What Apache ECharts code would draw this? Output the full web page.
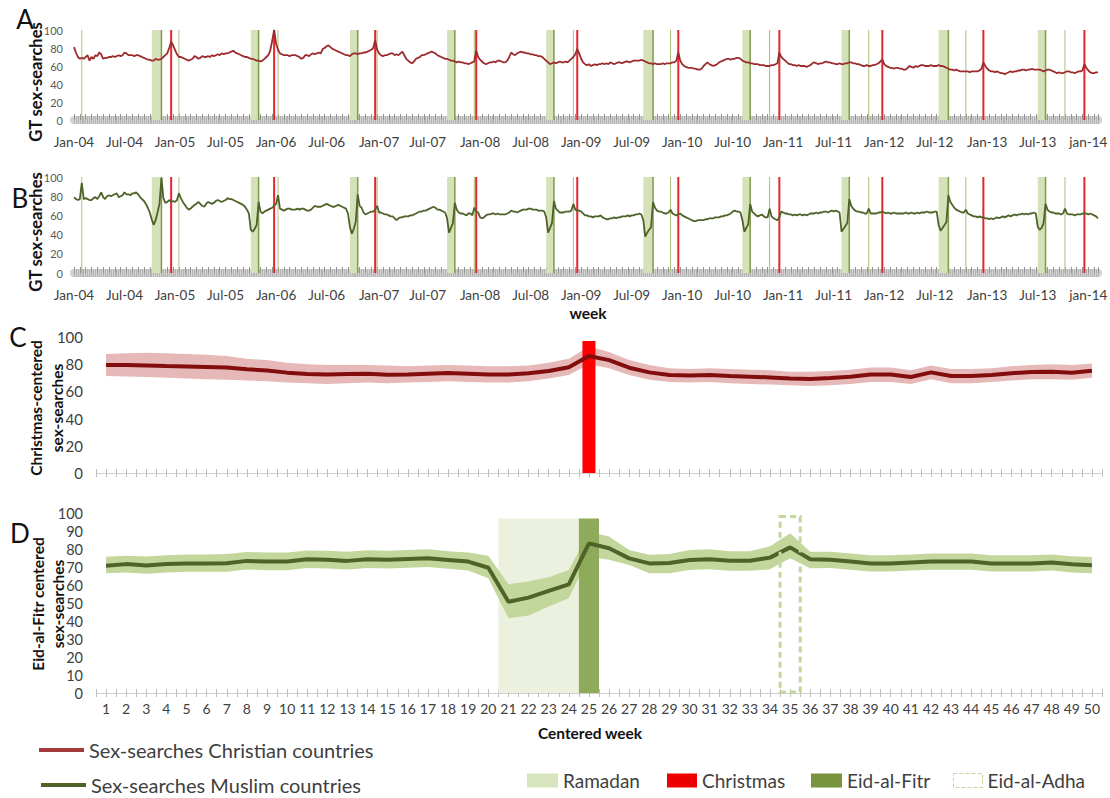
<!DOCTYPE html>
<html><head><meta charset="utf-8">
<script src="https://cdn.jsdelivr.net/npm/echarts@6/dist/echarts.min.js"></script>
<style>html,body{margin:0;padding:0;background:#fff}#chart{width:1110px;height:798px}</style>
</head><body><div id="chart"></div>
<script>
// ---------- DATA ----------
const weekStart = '2004-01-04';
const timeTickLabels = ['Jan-04','Jul-04','Jan-05','Jul-05','Jan-06','Jul-06','Jan-07','Jul-07','Jan-08','Jul-08','Jan-09','Jul-09','Jan-10','Jul-10','Jan-11','Jul-11','Jan-12','Jul-12','Jan-13','Jul-13','jan-14'];

// Panel A: weekly GT sex-searches, Christian countries (52 weeks per block from 2004-01-04)
const christian2004 = [81,75,70,68,69,68,70,72,66,70,68,72,71, 75,73,68,69,69,70,70,71,70,71,72,71,72, 75,74,72,72,72,71,72,72,71,70,69,68,67, 67,66,66,68,67,67,68,70,72,74,80,87,83];
const christian2005 = [78,73,70,70,69,68,67,66,67,68,71,70,68, 69,71,70,70,71,70,72,71,72,73,72,74,73, 74,74,75,76,77,75,74,73,72,71,70,70,69, 68,68,67,66,66,65,66,68,70,72,77,88,100];
const christian2006 = [85,78,74,73,72,72,72,71,72,72,72,71,70, 68,69,72,72,71,73,74,73,74,75,74,79,80, 82,83,81,79,78,77,76,75,74,73,72,72,71, 73,74,74,73,74,74,75,75,76,77,78,80,89];
const christian2007 = [78,74,72,71,72,72,73,74,74,72,73,72,74, 76,72,68,66,64,63,65,68,69,70,72,72,73, 74,75,76,75,74,72,71,70,69,68,68,67,66, 66,65,64,65,64,64,63,63,62,63,64,65,77];
const christian2008 = [70,67,65,63,62,63,64,64,65,64,66,66,65, 64,64,66,70,75,73,72,74,75,76,75,75,74, 74,73,73,72,72,71,71,70,68,66,64,62,63, 64,63,64,65,64,64,65,64,66,68,70,73,79];
const christian2009 = [74,68,64,62,61,62,60,61,62,61,62,62,63, 62,63,62,64,63,62,63,64,64,63,64,65,65, 64,65,66,66,66,66,67,66,65,64,63,63,62, 63,62,62,62,63,62,63,63,63,64,64,66,75];
const christian2010 = [66,62,60,59,58,58,58,57,57,56,56,57,60, 62,64,62,61,60,61,62,64,65,66,67,68,68, 67,68,68,69,69,68,66,65,64,64,63,63,62, 62,62,61,61,61,60,60,60,61,61,62,63,75];
const christian2011 = [70,68,66,64,62,62,61,61,60,61,60,60,60, 59,60,61,63,64,63,62,63,63,64,65,64,64, 63,63,62,62,63,62,62,63,63,64,64,63,63, 62,62,61,60,60,61,60,60,61,61,62,63,65];
const christian2012 = [67,62,60,59,58,58,57,58,58,57,57,56,56, 58,60,59,58,60,59,60,61,61,60,60,60,61, 60,60,60,61,60,60,59,58,57,56,56,55,56, 55,54,54,54,54,54,53,54,54,54,54,55,57];
const christian2013 = [64,60,57,55,54,54,53,54,53,52,52,51,52, 53,54,53,54,54,55,55,56,56,55,56,56,57, 56,56,56,56,55,54,55,56,56,55,54,53,52, 53,52,52,53,54,54,53,53,52,53,54,54,55];
const christian2014 = [62,58,55,53,52,52,53,53];

// Panel B: weekly GT sex-searches, Muslim countries
const muslim2004 = [79,77,76,77,94,77,78,77,76,76,78,79,77, 80,84,79,77,80,81,80,81,82,83,79,80,81, 84,82,82,81,83,83,84,82,79,77,75,72,68, 63,56,50,55,63,72,99,78,73,74,76,74,75];
const muslim2005 = [74,76,83,78,74,71,68,66,67,69,71,72,74, 72,70,69,72,74,73,72,73,75,76,75,74,75, 76,78,77,77,76,75,74,73,72,71,69,66,62, 45,43,46,50,74,64,62,64,65,66,67,68,70];
const muslim2006 = [72,81,67,66,65,66,67,67,66,66,66,67,66, 67,67,66,65,65,66,68,70,69,69,69,70,71, 72,71,70,69,69,70,71,70,69,68,67,62,48, 41,46,53,82,70,68,63,61,62,63,64,64,66];
const muslim2007 = [70,63,63,62,61,61,60,59,59,57,55,57,58, 58,59,59,59,60,60,61,62,63,64,64,65,65, 66,67,68,69,68,66,66,65,64,63,57,42,47, 52,73,66,63,62,62,61,60,62,62,60,68,64];
const muslim2008 = [63,58,57,58,60,61,61,62,62,61,62,61,61, 61,61,62,63,65,64,64,63,64,65,66,66,66, 67,67,66,66,66,65,65,65,64,58,42,47,52, 75,67,65,63,63,63,64,64,64,65,72,66,65];
const muslim2009 = [65,64,62,60,60,59,59,58,59,59,59,60,58, 57,56,56,57,57,58,57,58,58,59,59,59,60, 59,60,60,61,61,62,61,55,38,42,45,48,74, 68,65,64,64,63,62,62,63,66,62,61,60,61];
const muslim2010 = [62,60,59,58,57,56,55,54,54,55,55,55,55, 56,56,57,57,57,58,58,58,59,59,60,60,61, 62,64,65,64,64,63,55,43,47,51,72,64,62, 60,59,60,61,59,58,58,67,59,57,56,55,58];
const muslim2011 = [64,63,62,62,61,61,60,61,60,61,61,60,61, 60,61,62,62,62,63,62,63,63,64,64,63,64, 65,64,65,64,63,43,46,49,52,77,70,67,65, 64,64,63,63,62,62,67,62,62,62,62,63,63];
const muslim2012 = [64,63,62,63,62,62,63,62,62,62,62,62,63, 62,62,63,62,62,63,62,63,63,63,64,63,63, 63,64,64,50,44,47,50,53,81,74,71,68,66, 65,64,63,63,66,62,61,60,59,59,58,59,58];
const muslim2013 = [58,57,57,56,57,56,57,58,57,58,59,58,59, 60,59,60,61,60,61,61,62,61,62,61,62,62, 63,62,48,45,47,52,72,66,64,63,63,62,62, 62,61,62,67,62,61,61,61,60,61,61,61,62];
const muslim2014 = [62,62,61,62,61,60,59,57];

// Event dates
const ramadanStart = ['2004-10-15','2005-10-04','2006-09-24','2007-09-13','2008-09-01','2009-08-22','2010-08-11','2011-08-01','2012-07-20','2013-07-09'];
const eidFitrDates = ['2004-11-14','2005-11-03','2006-10-23','2007-10-13','2008-10-01','2009-09-20','2010-09-10','2011-08-30','2012-08-19','2013-08-08'];
const christmasDates = ['2004-12-25','2005-12-25','2006-12-25','2007-12-25','2008-12-25','2009-12-25','2010-12-25','2011-12-25','2012-12-25','2013-12-25'];
const eidAdhaDates = ['2004-02-01','2005-01-21','2006-01-10','2006-12-31','2007-12-20','2008-12-08','2009-11-27','2010-11-16','2011-11-06','2012-10-26','2013-10-15'];

// Panel C: Christmas-centered (weeks 1..50)
const christmasMean  = [79.4,79.4,79,78.6,78.3,78,77.5,76.3,75.3,73.8,72.8,72.5,72.8,73,72.3,72.5,73,73.5,73,72.5,72.5,73.3,75,77.7,86,83,77.4,74,72,71.6,72,71.3,70.8,70.3,69.4,69.1,69.8,70.8,72.5,72.5,70.6,74,71.3,71.3,72,73.3,74.3,74.5,73.7,75.2];
const christmasUpper = [87.5,88,88.5,88,87.5,87,86,84,83,81,80,79.5,79.5,79.5,79,78.5,79,79.5,79,78.5,78.5,79,81,84,93,89,83,79.5,77,76.5,77,76.5,76,75.5,74.5,74.5,75,76,77.5,77.5,75.5,79,76.5,76.5,77,78.5,79.5,80,79.5,80.5];
const christmasLower = [71.3,71,70.5,70,69.5,69,68.5,68,67.5,66.5,66,65.5,66,66.5,66,66.5,67,67.5,67,66.5,66.5,67.5,69.5,72,80,77,72,68.5,67,66.5,67,66,65.5,65,64.5,64,64.5,65.5,67,67,65.5,69,66,66,67,68,69,69,68.5,70];
const christmasBar = [[25, 97]];

// Panel D: Eid-al-Fitr centered (weeks 1..50)
const eidMean  = [70.7,71.6,70.9,71.6,72,72,72.1,73.4,73,73,74.3,74,73.4,74.3,74,74.4,74.8,73.9,73,69.6,50.7,53,56.7,60.4,83.1,80.4,74.8,72,72.2,73.9,74.3,73.5,73.5,75.2,80.9,74.3,74,73,72,72,72.5,73,73,73,72,72,72,72.5,71.5,71];
const eidUpper = [75.7,76.2,75.8,76.5,77,77,77.2,78.3,78,78,79.2,79,78.5,79.3,79,79.4,79.8,78.8,78,76.3,60.4,62,64.3,68.3,89.6,87,79.4,76.8,77.2,79.4,79.8,78.7,78.7,81.5,88.7,78.5,78.5,77.5,76.5,76.5,77,77.5,77.5,77.5,76.5,76.5,76.5,77,76,75.5];
const eidLower = [66.5,67,66.2,67,67.3,67.3,67.3,68.6,68.2,68.2,69.5,69.2,68.6,69.5,69.2,69.6,70,69,68,63.7,41.5,43,48,52.6,75.7,74,71.1,66.5,66.5,68.3,68.7,67.9,67.9,68.7,74.8,69.3,69.5,68.5,67.5,67.5,68,68.5,68.5,68.5,67.5,67.5,67.5,68,67,66.5];
const ramadanSpan = [[20.5, 24.5, 97]];
const eidFitrSpan = [[24.5, 25.5, 97]];
const eidAdhaSpan = [[34.5, 35.5, 0.5, 98]];

// ---------- BUILD ----------
const FONT = 'Lato, "Liberation Sans", sans-serif';
const DAY = 86400000;
const [y0, m0, d0] = weekStart.split('-').map(Number);
const WEEK0 = Date.UTC(y0, m0 - 1, d0);
function weekOf(s) { const [y, m, d] = s.split('-').map(Number); return Math.floor((Date.UTC(y, m - 1, d) - WEEK0) / (7 * DAY)); }

const christianWeekly = [].concat(christian2004, christian2005, christian2006, christian2007, christian2008, christian2009, christian2010, christian2011, christian2012, christian2013, christian2014);
const muslimWeekly = [].concat(muslim2004, muslim2005, muslim2006, muslim2007, muslim2008, muslim2009, muslim2010, muslim2011, muslim2012, muslim2013, muslim2014);
const N = christianWeekly.length;

const labelMap = {};
let li = 0;
for (let i = 0; i < N; i++) {
  const d = new Date(WEEK0 + i * 7 * DAY);
  if ((d.getUTCMonth() === 0 || d.getUTCMonth() === 6) && d.getUTCDate() <= 7) { labelMap[i] = timeTickLabels[li++]; }
}

const ramadanSpans = ramadanStart.map((d, k) => [weekOf(d), weekOf(eidFitrDates[k])]);
const eidWeeks = eidFitrDates.map(d => [weekOf(d), weekOf(d)]);
const xmasWeeks = christmasDates.map(d => [weekOf(d), weekOf(d)]);
const adhaWeeks = eidAdhaDates.map(d => [weekOf(d), weekOf(d)]);

const C_RAM = '#d5e2b9', C_EID = '#7f9a48', C_XMAS = '#e3262b', C_ADHA = '#a9c27a';

function spanRender(color) {
  return function (params, api) {
    const cs = params.coordSys;
    const x0 = api.coord([api.value(0), 0])[0];
    const x1 = api.coord([api.value(1), 0])[0];
    return { type: 'rect', shape: { x: x0, y: cs.y, width: Math.max(x1 - x0, 1), height: cs.height }, style: { fill: color } };
  };
}
function vlineRender(color, width) {
  return function (params, api) {
    const cs = params.coordSys;
    const x = api.coord([api.value(0), 0])[0];
    return { type: 'line', shape: { x1: x, y1: cs.y, x2: x, y2: cs.y + cs.height }, style: { stroke: color, lineWidth: width } };
  };
}
function eventSeries(xi, yi) {
  const s = [];
  s.push({ type: 'custom', name: 'Ramadan', xAxisIndex: xi, yAxisIndex: yi, data: ramadanSpans, renderItem: spanRender(C_RAM), itemStyle: { color: C_RAM }, z: 1, silent: true });
  s.push({ type: 'custom', name: 'Eid-al-Fitr', xAxisIndex: xi, yAxisIndex: yi, data: eidWeeks, renderItem: vlineRender(C_EID, 1.5), itemStyle: { color: C_EID }, z: 2, silent: true });
  s.push({ type: 'custom', name: 'Eid-al-Adha', xAxisIndex: xi, yAxisIndex: yi, data: adhaWeeks, renderItem: vlineRender(C_ADHA, 1), itemStyle: { color: C_ADHA }, z: 2, silent: true });
  s.push({ type: 'custom', name: 'Christmas', xAxisIndex: xi, yAxisIndex: yi, data: xmasWeeks, renderItem: vlineRender(C_XMAS, 2), itemStyle: { color: C_XMAS }, z: 3, silent: true });
  return s;
}
function timeAxes(g) {
  return [
    { type: 'value', gridIndex: g, position: 'bottom', min: 0, max: N - 1, interval: 1,
      axisLine: { show: true, onZero: false, lineStyle: { color: '#d2d2d2', width: 8 } },
      axisTick: { show: true, length: 4, lineStyle: { color: '#b4b4b4', width: 1 } },
      axisLabel: { show: true, margin: 15, fontSize: 13.5, color: '#404040', fontFamily: FONT, formatter: v => labelMap[v] || '' },
      splitLine: { show: false } },
    { type: 'value', gridIndex: g, position: 'bottom', min: 0, max: N - 1, interval: 1,
      axisLine: { show: false, onZero: false }, axisTick: { show: true, inside: true, length: 4, lineStyle: { color: '#b4b4b4', width: 1 } },
      axisLabel: { show: false }, splitLine: { show: false } },
    { type: 'value', gridIndex: g, position: 'bottom', min: 0, max: N - 1, interval: 3,
      axisLine: { show: false, onZero: false }, axisTick: { show: true, inside: true, length: 6, lineStyle: { color: '#939393', width: 1 } },
      axisLabel: { show: false }, splitLine: { show: false } }
  ];
}
function centeredAxes(g, showLabels) {
  return [
    { type: 'value', gridIndex: g, position: 'bottom', min: 0.5, max: 50.5, interval: 0.5,
      axisLine: { show: true, onZero: false, lineStyle: { color: '#d0d0d0', width: 1 } },
      axisTick: { show: true, length: 4, lineStyle: { color: '#bdbdbd' } },
      axisLabel: { show: showLabels, margin: 8, fontSize: 14, color: '#404040', fontFamily: FONT,
        formatter: v => Math.abs(v - Math.round(v)) < 1e-6 ? String(Math.round(v)) : '' },
      splitLine: { show: false } },
    { type: 'value', gridIndex: g, position: 'bottom', min: 0.5, max: 50.5, interval: 0.5,
      axisLine: { show: false, onZero: false }, axisTick: { show: true, inside: true, length: 4, lineStyle: { color: '#bdbdbd' } },
      axisLabel: { show: false }, splitLine: { show: false } }
  ];
}
function yAx(g, interval, fontSize, margin, color) {
  return { type: 'value', gridIndex: g, position: 'left', min: 0, max: 100, interval: interval,
    axisLine: { show: false }, axisTick: { show: false }, splitLine: { show: false },
    axisLabel: { fontSize: fontSize, margin: margin, color: color, fontFamily: FONT } };
}
function bandSeries(name, xi, yi, lower, upper, color) {
  return { type: 'custom', name: name, xAxisIndex: xi, yAxisIndex: yi, silent: true, z: 2,
    data: lower.map((l, i) => [i + 1, l, upper[i]]),
    renderItem: function (params, api) {
      if (params.dataIndex !== 0) return null;
      const pts = [];
      for (let i = 0; i < upper.length; i++) pts.push(api.coord([i + 1, upper[i]]));
      for (let i = lower.length - 1; i >= 0; i--) pts.push(api.coord([i + 1, lower[i]]));
      return { type: 'polygon', shape: { points: pts }, style: { fill: color } };
    } };
}
function rectRender(fill, stroke, dash, lw) {
  return function (params, api) {
    const p0 = api.coord([api.value(0), api.value(2)]);
    const v3 = api.value(3);
    const p1 = api.coord([api.value(1), (v3 !== undefined && !isNaN(v3)) ? v3 : 0]);
    return { type: 'rect', shape: { x: p0[0], y: p0[1], width: p1[0] - p0[0], height: p1[1] - p0[1] },
      style: { fill: fill, stroke: stroke, lineWidth: lw || 0, lineDash: dash || null } };
  };
}

const NAME_CH = 'Sex-searches Christian countries';
const NAME_MU = 'Sex-searches Muslim countries';
const COL_CH = '#9c2b2e', COL_MU = '#4f6228';

const xAxes = [].concat(timeAxes(0), timeAxes(1), centeredAxes(2, false), centeredAxes(3, true));
// indices: A 0,1,2 | B 3,4,5 | C 6,7 | D 8,9
const yAxes = [yAx(0, 20, 11, 11, '#595959'), yAx(1, 20, 11, 11, '#595959'), yAx(2, 20, 15, 13, '#404040'), yAx(3, 10, 14.5, 13, '#404040')];

const series = [].concat(
  eventSeries(0, 0),
  [{ type: 'line', name: NAME_CH, xAxisIndex: 0, yAxisIndex: 0, data: christianWeekly.map((v, i) => [i, v]), symbol: 'none', silent: true,
     lineStyle: { color: COL_CH, width: 1.8 }, itemStyle: { color: COL_CH }, z: 5 }],
  eventSeries(3, 1),
  [{ type: 'line', name: NAME_MU, xAxisIndex: 3, yAxisIndex: 1, data: muslimWeekly.map((v, i) => [i, v]), symbol: 'none', silent: true,
     lineStyle: { color: COL_MU, width: 1.8 }, itemStyle: { color: COL_MU }, z: 5 }],
  // Panel C
  [bandSeries('Christmas 95% band', 6, 2, christmasLower, christmasUpper, '#e6b9b8'),
   { type: 'custom', name: 'Christmas', xAxisIndex: 6, yAxisIndex: 2, silent: true, z: 3, data: christmasBar, itemStyle: { color: '#ff0000' },
     renderItem: function (params, api) {
       const top = api.coord([api.value(0), api.value(1)]);
       const bot = api.coord([api.value(0), 0]);
       return { type: 'rect', shape: { x: top[0] - 6.5, y: top[1], width: 13, height: bot[1] - top[1] }, style: { fill: '#ff0000' } };
     } },
   { type: 'line', name: NAME_CH, xAxisIndex: 6, yAxisIndex: 2, data: christmasMean.map((v, i) => [i + 1, v]), symbol: 'none', silent: true,
     lineStyle: { color: '#820d0d', width: 4 }, itemStyle: { color: COL_CH }, z: 5 }],
  // Panel D
  [{ type: 'custom', name: 'Ramadan', xAxisIndex: 8, yAxisIndex: 3, silent: true, z: 1, data: ramadanSpan, itemStyle: { color: '#ebf1de' },
     renderItem: rectRender('#ebf1de') },
   bandSeries('Eid 95% band', 8, 3, eidLower, eidUpper, '#c3d69b'),
   { type: 'custom', name: 'Eid-al-Fitr', xAxisIndex: 8, yAxisIndex: 3, silent: true, z: 3, data: eidFitrSpan, itemStyle: { color: '#8dab5b' },
     renderItem: rectRender('#8dab5b') },
   { type: 'line', name: NAME_MU, xAxisIndex: 8, yAxisIndex: 3, data: eidMean.map((v, i) => [i + 1, v]), symbol: 'none', silent: true,
     lineStyle: { color: COL_MU, width: 4 }, itemStyle: { color: COL_MU }, z: 5 },
   { type: 'custom', name: 'Eid-al-Adha', xAxisIndex: 8, yAxisIndex: 3, silent: true, z: 6,
     data: eidAdhaSpan.map(a => [a[0], a[1], a[3], a[2]]), itemStyle: { color: '#fff' },
     renderItem: rectRender('none', '#c3d69b', [6, 4], 3) }]
);

const legendBase = { orient: 'horizontal', padding: 0, selectedMode: false, itemGap: 0 };
const LEG_L = { fontSize: 20, color: '#404040', fontFamily: FONT };
const LEG_R = { fontSize: 19, color: '#404040', fontFamily: FONT };
const legends = [
  Object.assign({}, legendBase, { left: 39, top: 740, itemWidth: 45, itemHeight: 4, textStyle: LEG_L,
    data: [{ name: NAME_CH, icon: 'rect', itemStyle: { color: '#a33a3b' } }] }),
  Object.assign({}, legendBase, { left: 41, top: 775, itemWidth: 45, itemHeight: 4, textStyle: LEG_L,
    data: [{ name: NAME_MU, icon: 'rect', itemStyle: { color: COL_MU } }] }),
  Object.assign({}, legendBase, { left: 527, top: 771, itemWidth: 31, itemHeight: 14, textStyle: LEG_R,
    data: [{ name: 'Ramadan', icon: 'rect', itemStyle: { color: '#d7e4bd' } }] }),
  Object.assign({}, legendBase, { left: 667, top: 771, itemWidth: 30, itemHeight: 14, textStyle: LEG_R,
    data: [{ name: 'Christmas', icon: 'rect', itemStyle: { color: '#ee0000' } }] }),
  Object.assign({}, legendBase, { left: 811, top: 771, itemWidth: 31, itemHeight: 14, textStyle: LEG_R,
    data: [{ name: 'Eid-al-Fitr', icon: 'rect', itemStyle: { color: '#77933c' } }] }),
  Object.assign({}, legendBase, { left: 953, top: 771, itemWidth: 29, itemHeight: 14, textStyle: LEG_R,
    data: [{ name: 'Eid-al-Adha', icon: 'rect', itemStyle: { color: '#ffffff', borderColor: '#c3d69b', borderWidth: 1, borderType: 'dashed' } }] })
];

function txt(text, x, y, size, bold, rot) {
  return { type: 'text', x: x, y: y, rotation: rot || 0, silent: true,
    style: { text: text, fill: '#111', font: (bold ? 'bold ' : '') + size + 'px ' + FONT, align: 'center', verticalAlign: 'middle' } };
}
const R = Math.PI / 2;
const graphics = [
  txt('A', 25, 19, 26, false),
  txt('B', 20, 198, 26, false),
  txt('C', 18, 337, 26, false),
  txt('D', 20, 533, 26, false),
  txt('GT sex-searches', 36, 82, 16.5, true, R),
  txt('GT sex-searches', 36, 232, 16.5, true, R),
  txt('Christmas-centered', 36, 408, 15.5, true, R),
  txt('sex-searches', 57, 408, 15.5, true, R),
  txt('Eid-al-Fitr centered', 38, 604, 15.5, true, R),
  txt('sex-searches', 58, 604, 15.5, true, R),
  txt('week', 588, 313, 15.5, true),
  txt('Centered week', 590, 733, 15.5, true)
];

const option = {
  animation: false,
  backgroundColor: '#ffffff',
  textStyle: { fontFamily: FONT },
  grid: [
    { left: 74, right: 12, top: 30, bottom: 678, containLabel: false, outerBoundsMode: 'none' },
    { left: 74, right: 12, top: 177, bottom: 525, containLabel: false, outerBoundsMode: 'none' },
    { left: 96, right: 8, top: 337, bottom: 325, containLabel: false, outerBoundsMode: 'none' },
    { left: 96, right: 8, top: 513, bottom: 105, containLabel: false, outerBoundsMode: 'none' }
  ],
  xAxis: xAxes,
  yAxis: yAxes,
  legend: legends,
  graphic: graphics,
  series: series
};

const chart = echarts.init(document.getElementById('chart'), null, { renderer: 'svg' });
chart.setOption(option);
</script>
</body></html>
